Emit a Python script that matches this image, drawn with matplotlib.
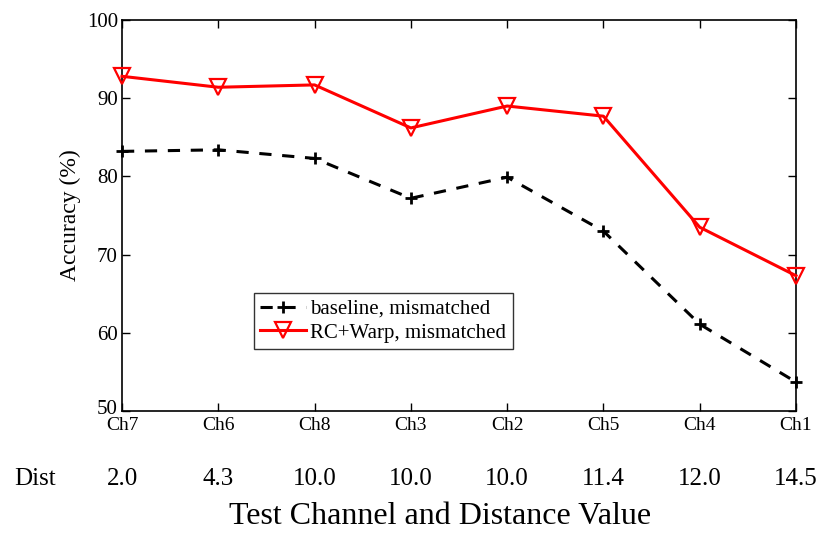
import matplotlib
matplotlib.use("Agg")
import matplotlib.pyplot as plt
import matplotlib.transforms as mtransforms

channels = ["Ch7", "Ch6", "Ch8", "Ch3", "Ch2", "Ch5", "Ch4", "Ch1"]
dists = ["2.0", "4.3", "10.0", "10.0", "10.0", "11.4", "12.0", "14.5"]
baseline = [83.2, 83.4, 82.3, 77.2, 79.9, 73.0, 61.1, 53.7]
rcwarp = [92.8, 91.4, 91.7, 86.2, 89.0, 87.7, 73.5, 67.3]

plt.rcParams['font.family'] = ['Liberation Serif', 'DejaVu Serif']

fig = plt.figure(figsize=(8.17, 5.33), dpi=100)
ax = fig.add_axes([122/817, 1-411/533, (796-122)/817, (411-20)/533])
x = list(range(len(channels)))
ax.plot(x, baseline, color='black', linestyle='--', dashes=(4, 3.5), lw=2.2,
        marker='+', markersize=9, markeredgewidth=2, label='baseline, mismatched',
        clip_on=False, zorder=3)
ax.plot(x, rcwarp, color='#ff0000', linestyle='-', lw=2.2,
        marker='v', markersize=11, markerfacecolor='none', markeredgewidth=1.6,
        label='RC+Warp, mismatched', clip_on=False, zorder=3)
ax.set_xlim(0, len(channels)-1)
ax.set_ylim(50, 100)
ax.set_yticks([50, 60, 70, 80, 90, 100])
ax.set_xticks(x)
ax.set_xticklabels(channels, fontsize=14)
ax.tick_params(axis='both', direction='in', top=True, right=True, length=6, width=1)
ax.tick_params(axis='x', pad=4)
ax.tick_params(axis='y', labelsize=15, pad=3)
# nudge the lowest y tick label up a little, as in the reference
lbl50 = ax.get_yticklabels()[0]
lbl50.set_transform(lbl50.get_transform() + mtransforms.ScaledTranslation(0, 4/100, fig.dpi_scale_trans))
for s in ax.spines.values():
    s.set_linewidth(1.2)
ax.set_ylabel('Accuracy (%)', fontsize=17, labelpad=4)

for xi, d in zip(x, dists):
    ax.annotate(d, xy=(xi, 0), xycoords=('data', 'axes fraction'), xytext=(0, -68),
                textcoords='offset pixels', ha='center', va='center', fontsize=18)
fig.text(35/817, 1-479/533, 'Dist', ha='center', va='center', fontsize=18)
fig.text(440/817, 1-516/533, 'Test Channel and Distance Value', ha='center', va='center', fontsize=23)

leg = ax.legend(loc='upper left', bbox_to_anchor=((254-122)/674, (411-293)/391),
                fontsize=15, frameon=True, fancybox=False, borderpad=0.3,
                handlelength=2.2, handletextpad=0.2, labelspacing=0.2, borderaxespad=0)
leg.get_frame().set_edgecolor('black')
leg.get_frame().set_linewidth(1.0)

fig.savefig('out.png', dpi=100)
